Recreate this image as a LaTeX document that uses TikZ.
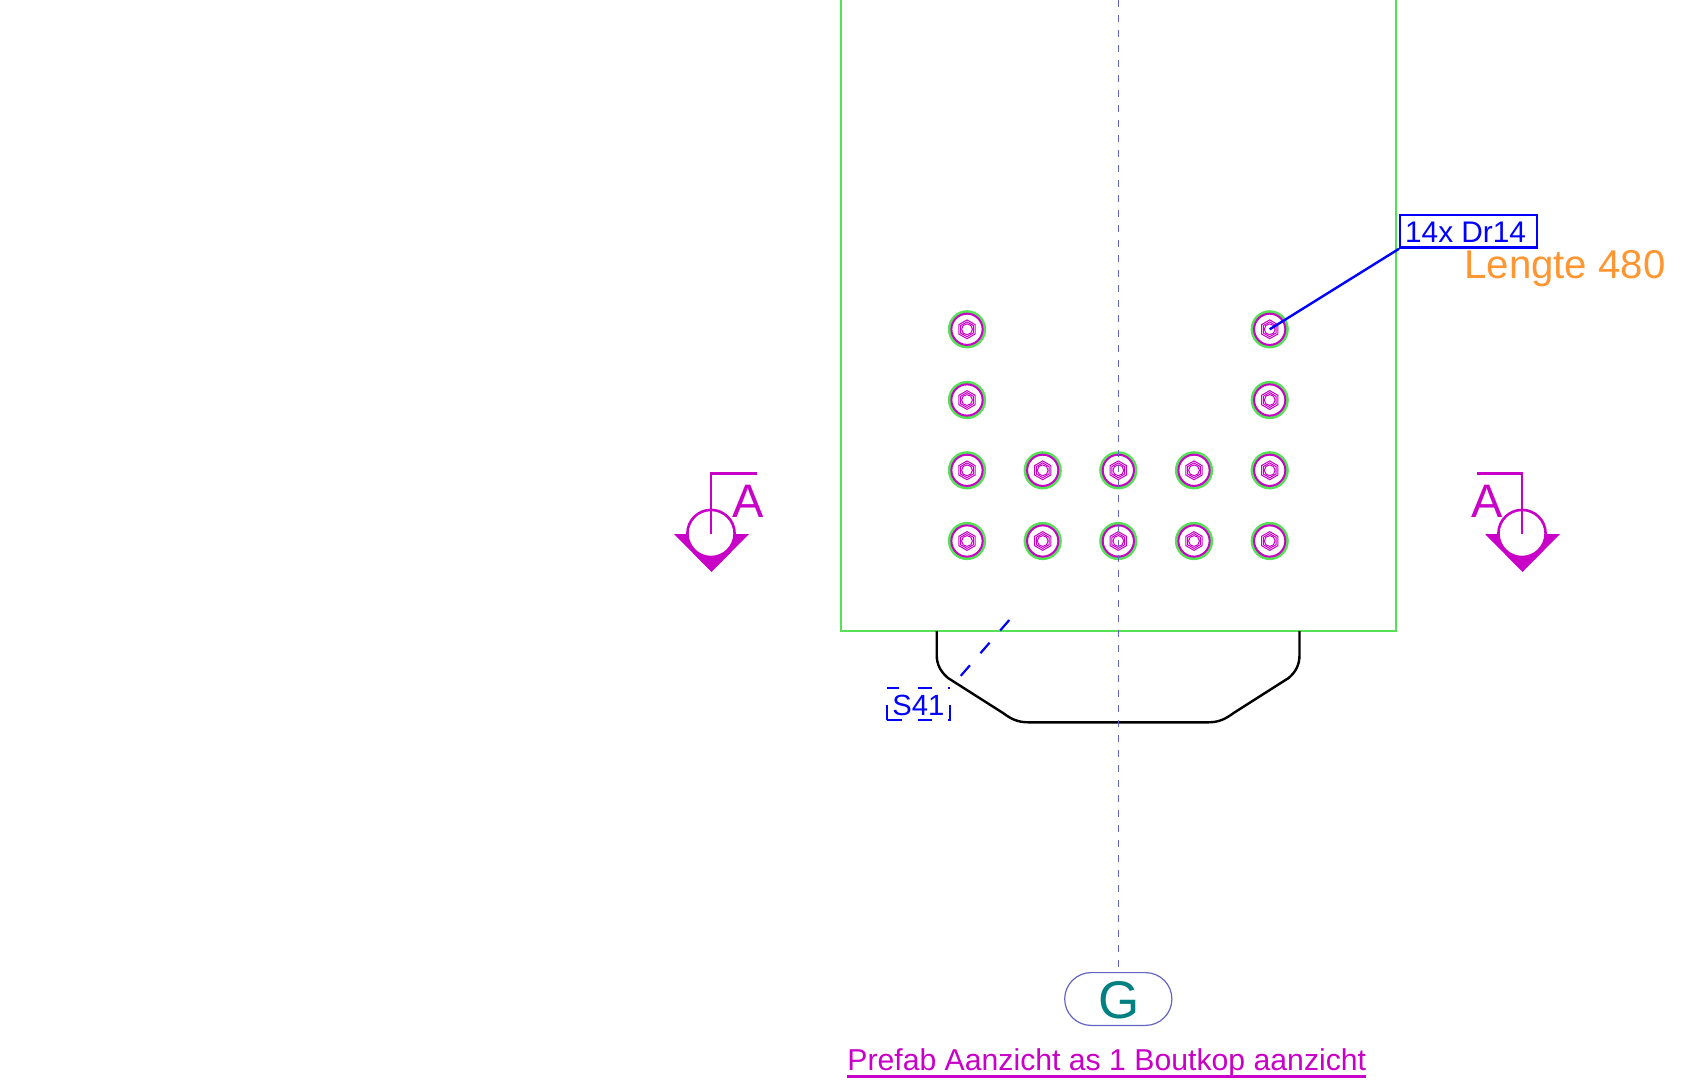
\documentclass[tikz,border=0pt]{standalone}
\usepackage{fontspec}
\setmainfont{Liberation Sans}
\usepackage{tikz}
\usetikzlibrary{shapes}
\usetikzlibrary{positioning}
\definecolor{mymagenta}{RGB}{200,0,200}
\definecolor{mygreen}{RGB}{85,225,85}
\definecolor{myaxis}{RGB}{100,100,195}
\definecolor{myorange}{RGB}{255,150,50}
\definecolor{myteal}{RGB}{0,128,128}
\tikzset{
    ringg/.style = {circle, draw=mygreen, line width=1.5pt, minimum size=17.6pt, inner sep=0pt},
    ringm/.style = {circle, draw=mymagenta, line width=1pt, minimum size=15.6pt, inner sep=0pt},
    hexo/.style = {regular polygon, regular polygon sides=6, shape border rotate=30, draw=mymagenta, line width=.5pt, minimum size=9.4pt, inner sep=0pt},
    hexi/.style = {regular polygon, regular polygon sides=6, shape border rotate=30, draw=mymagenta, line width=.5pt, minimum size=7.4pt, inner sep=0pt},
    holem/.style = {circle, draw=mymagenta, line width=.5pt, minimum size=5.4pt, inner sep=0pt},
    sect/.style = {circle, draw=mymagenta, fill=white, line width=1.3pt, minimum size=23.6pt, inner sep=0pt},
    secta/.style = {inner sep=0pt, anchor=base west, text=mymagenta, font=\fontsize{23.5}{26}\selectfont},
    edgem/.style = {draw=mymagenta, line width=1.2pt},
    edgeb/.style = {draw=blue, line width=1.2pt},
    edgea/.style = {draw=myaxis, line width=.5pt, dash pattern=on 3.5pt off 4pt},
    edgew/.style = {draw=blue, line width=1.1pt, dash pattern=on 7pt off 8pt},
    tagb/.style = {rectangle, draw=blue, line width=1.2pt, minimum width=68.3pt, minimum height=16.2pt, inner sep=0pt, anchor=north west},
    textb/.style = {inner sep=0pt, anchor=base west, text=blue, font=\fontsize{14.9}{17}\selectfont},
}

\begin{document}
\begin{tikzpicture}[x=.5pt,y=-.5pt]
  \useasboundingbox (0,0) rectangle (1708,1081);

  % plate
  \draw[mygreen,line width=1.2pt] (841,0) -- (841,631) -- (1395.7,631) -- (1395.7,0);
  % boutkop
  \draw[black,line width=1.2pt] (936.7,631) -- (936.7,655)
    .. controls (936.7,665) and (941,672) .. (948,678)
    -- (1003,713) .. controls (1011,719) and (1018,722.3) .. (1028,722.3)
    -- (1208.6,722.3) .. controls (1218.6,722.3) and (1225.6,719) .. (1233.6,713)
    -- (1288.6,678) .. controls (1295.6,672) and (1299.5,665) .. (1299.5,655)
    -- (1299.5,631);

  % bolts
  \foreach \bx/\by/\bn in {967/329.3/1,1269.7/329.3/2,967/400/3,1269.7/400/4,
      967/470.3/5,1042.7/470.3/6,1118.3/470.3/7,1194/470.3/8,1269.7/470.3/9,
      967/541/10,1042.7/541/11,1118.3/541/12,1194/541/13,1269.7/541/14}{
    \node[ringg] (g\bn) at (\bx,\by) {};
    \node[ringm] (m\bn) at (\bx,\by) {};
    \node[hexo] (h\bn) at (\bx,\by) {};
    \node[hexi] (i\bn) at (\bx,\by) {};
    \node[holem] (c\bn) at (\bx,\by) {};
  }

  % axis
  \node[rounded rectangle, draw=myaxis, line width=.6pt, minimum width=53.6pt, minimum height=26.4pt, inner sep=0pt] (pill) at (1118.3,999) {};
  \node[inner sep=0pt, anchor=base, text=myteal, font=\fontsize{26.5}{28}\selectfont] (glabel) at (1118.6,1018.5) {G};
  \coordinate (axistop) at (1118.3,0);
  \draw[edgea] (axistop) -- (pill.north);

  % section marks
  \coordinate (tl) at (711,534);
  \fill[mymagenta] (674,534) -- (749,534) -- (711.5,572) -- cycle;
  \node[sect] (secl) at (711,533.5) {};
  \coordinate (tlc) at (711,473.5);
  \coordinate (tle) at (757,473.5);
  \draw[edgem] (tl) -- (tlc) -- (tle);
  \node[secta] (al) at (732,517) {A};

  \coordinate (tr) at (1522,534);
  \fill[mymagenta] (1485,534) -- (1560,534) -- (1522.5,572) -- cycle;
  \node[sect] (secr) at (1522,533.5) {};
  \coordinate (trc) at (1522,473.5);
  \coordinate (tre) at (1477,473.5);
  \draw[edgem] (tr) -- (trc) -- (tre);
  \node[secta] (ar) at (1471,517) {A};

  % tag
  \node[tagb] (tag) at (1399,214) {};
  \node[textb] (tagtext) at (1404.7,242.5) {14x Dr14};
  \draw[edgeb] (tag.south west) -- (c2.center);
  \node[inner sep=0pt, anchor=base west, text=myorange, font=\fontsize{20.1}{22}\selectfont] (lengte) at (1464,278) {Lengte 480};

  % weld
  \node[rectangle, draw=blue, line width=1pt, dash pattern=on 7.5pt off 8.3pt on 7pt off 8pt on 8.35pt off 8.35pt on .85pt off 8pt on 7pt off 9.8pt on 6pt off 8.35pt on 7.5pt off 0pt, minimum width=31.65pt, minimum height=15.85pt, inner sep=0pt] (weldbox) at (918.3,704.2) {};
  \node[textb, font=\fontsize{14.6}{17}\selectfont] (weldtext) at (892,715) {S41};
  \coordinate (weldend) at (1009.3,620);
  \coordinate (weldtip) at (960,676.7);
  \draw[edgew] (weldend) -- (weldtip);

  % title
  \node[inner sep=0pt, anchor=base west, text=mymagenta, font=\fontsize{15.1}{17}\selectfont] (title) at (847,1070.5) {Prefab Aanzicht as 1 Boutkop aanzicht};
  \coordinate (ul) at (847,1076.5);
  \coordinate (ur) at (1366,1076.5);
  \draw[edgem] (ul) -- (ur);
\end{tikzpicture}
\end{document}
